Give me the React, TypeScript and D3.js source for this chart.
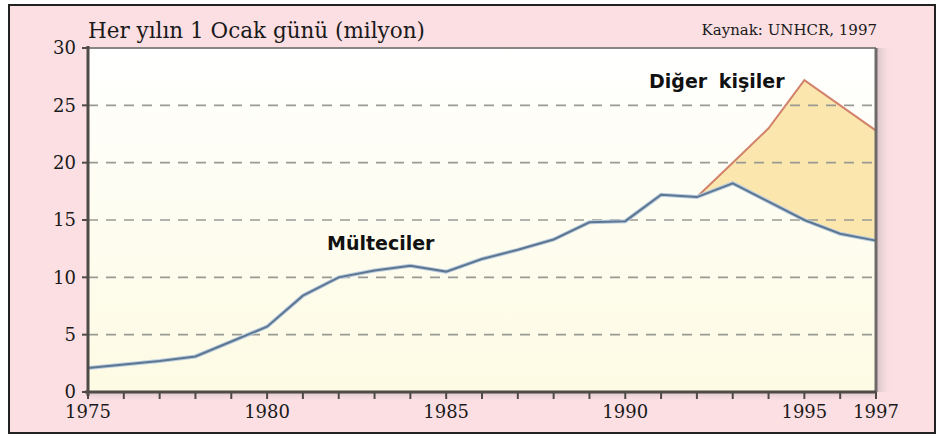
import React from "react";
import * as d3 from "d3";

// refugees (Mülteciler), millions on 1 January
const years = [1975, 1976, 1977, 1978, 1979, 1980, 1981, 1982, 1983, 1984, 1985, 1986, 1987, 1988, 1989, 1990, 1991, 1992, 1993, 1994, 1995, 1996, 1997];
const refugees = [2.1, 2.4, 2.7, 3.1, 4.4, 5.7, 8.4, 10.0, 10.6, 11.0, 10.5, 11.6, 12.4, 13.3, 14.8, 14.9, 17.2, 17.0, 18.2, 16.6, 15.0, 13.8, 13.2];
// total incl. others of concern (Diğer kişiler)
const totalYears = [1992, 1993, 1994, 1995, 1996, 1997];
const totals = [17.0, 20.0, 23.0, 27.2, 25.0, 22.8];

const yTicks = [0, 5, 10, 15, 20, 25, 30];
const xLabels = [1975, 1980, 1985, 1990, 1995, 1997];

const W = 941;
const H = 437;
const left = 88, right = 876, top = 48, bottom = 392;

export default function App() {
  const x = d3.scaleLinear().domain([1975, 1997]).range([left, right]);
  const y = d3.scaleLinear().domain([0, 30]).range([bottom, top]);

  const refPts = years.map((yr, i) => ({ yr, v: refugees[i] }));
  const totPts = totalYears.map((yr, i) => ({ yr, v: totals[i] }));
  const line = d3.line<{ yr: number; v: number }>().x((d) => x(d.yr)).y((d) => y(d.v));
  const refLookup = (yr: number) => refugees[years.indexOf(yr)];
  const area = d3
    .area<{ yr: number; v: number }>()
    .x((d) => x(d.yr))
    .y0((d) => y(refLookup(d.yr)))
    .y1((d) => y(d.v));

  const serif = "'DejaVu Serif', serif";
  const sans = "'DejaVu Sans', sans-serif";

  return (
    <svg width={W} height={H} style={{ position: "absolute", left: 0, top: 0 }}>
      <defs>
        <linearGradient id="plotbg" x1="0" y1="0" x2="0" y2="1">
          <stop offset="0" stopColor="#ffffff" />
          <stop offset="0.45" stopColor="#fefdf2" />
          <stop offset="1" stopColor="#fdfbe3" />
        </linearGradient>
        <linearGradient id="shadowR" x1="0" y1="0" x2="1" y2="0">
          <stop offset="0" stopColor="#c9b8bd" stopOpacity="0.8" />
          <stop offset="1" stopColor="#fbdfe3" stopOpacity="0" />
        </linearGradient>
        <linearGradient id="shadowB" x1="0" y1="0" x2="0" y2="1">
          <stop offset="0" stopColor="#c9b8bd" stopOpacity="0.7" />
          <stop offset="1" stopColor="#fbdfe3" stopOpacity="0" />
        </linearGradient>
      </defs>
      <rect x={9} y={5} width={926} height={428} fill="#fbdfe3" stroke="#222" strokeWidth={2} />

      {/* shadows */}
      <rect x={right} y={top} width={16} height={bottom - top} fill="url(#shadowR)" />
      <rect x={left} y={bottom} width={right - left} height={10} fill="url(#shadowB)" />

      {/* plot panel */}
      <rect x={left} y={top} width={right - left} height={bottom - top} fill="url(#plotbg)" />

      {/* others area */}
      <path d={area(totPts) || ""} fill="#fbe6ad" />

      {/* grid */}
      {yTicks.filter((t) => t > 0 && t < 30).map((t) => (
        <line key={t} x1={left} x2={right} y1={y(t)} y2={y(t)} stroke="#9a9a94" strokeWidth={1.6} strokeDasharray="10 8" />
      ))}

      {/* lines */}
      <path d={line(totPts) || ""} fill="none" stroke="#d2826b" strokeWidth={2} />
      <path d={line(refPts) || ""} fill="none" stroke="#b9cbe0" strokeWidth={4} />
      <path d={line(refPts) || ""} fill="none" stroke="#5d7790" strokeWidth={2} />

      {/* frame */}
      <line x1={left} x2={right} y1={top} y2={top} stroke="#8a8585" strokeWidth={2} />
      <line x1={right} x2={right} y1={top} y2={bottom} stroke="#6e6a6a" strokeWidth={3} />
      <line x1={left} x2={left} y1={top - 2} y2={bottom + 4} stroke="#4f4a48" strokeWidth={3} />
      <line x1={left - 3} x2={right} y1={bottom} y2={bottom} stroke="#4f4a48" strokeWidth={3} />

      {/* y ticks */}
      {yTicks.map((t) => (
        <g key={t}>
          <line x1={left - 6} x2={left} y1={y(t)} y2={y(t)} stroke="#4f4a48" strokeWidth={2} />
          <text x={left - 12} y={y(t)} dy="0.35em" textAnchor="end" fontFamily={serif} fontSize={18} fill="#1a1a1a">
            {t}
          </text>
        </g>
      ))}

      {/* x ticks */}
      {years.map((yr) => (
        <line key={yr} x1={x(yr)} x2={x(yr)} y1={bottom} y2={bottom + 7} stroke="#4f4a48" strokeWidth={2} />
      ))}
      {xLabels.map((yr) => (
        <text key={yr} x={x(yr)} y={418} textAnchor="middle" fontFamily={serif} fontSize={18} fill="#1a1a1a">
          {yr}
        </text>
      ))}

      {/* titles */}
      <text x={88} y={38} fontFamily={serif} fontSize={21.5} fill="#1a1a1a">
        Her yılın 1 Ocak günü (milyon)
      </text>
      <text x={877} y={35} textAnchor="end" fontFamily={serif} fontSize={15} fill="#1a1a1a">
        Kaynak: UNHCR, 1997
      </text>

      {/* series labels */}
      <text x={649} y={88} fontFamily={sans} fontWeight="bold" fontSize={19} wordSpacing={5} fill="#111">
        Diğer kişiler
      </text>
      <text x={327} y={250} fontFamily={sans} fontWeight="bold" fontSize={19} fill="#111">
        Mülteciler
      </text>
    </svg>
  );
}
